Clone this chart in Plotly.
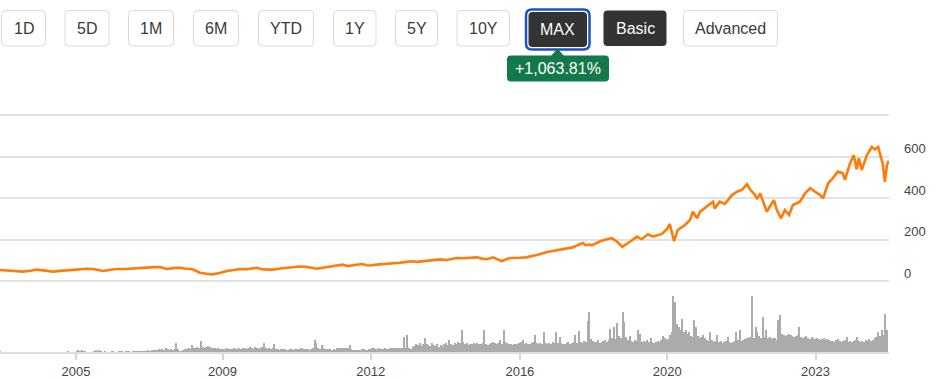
import plotly.graph_objects as go

W, H = 937, 379

# ---------------- data ----------------
price_years = [
    2004.17, 2004.35, 2004.55, 2004.72, 2004.90, 2005.05, 2005.25, 2005.44, 2005.60, 2005.77,
    2005.95, 2006.08, 2006.25, 2006.39, 2006.50, 2006.63, 2006.80, 2006.96, 2007.15, 2007.34,
    2007.50, 2007.67, 2007.85, 2007.98, 2008.14, 2008.30, 2008.45, 2008.60, 2008.74, 2008.85,
    2008.93, 2009.10, 2009.24, 2009.40, 2009.57, 2009.75, 2009.88, 2010.05, 2010.19, 2010.30,
    2010.42, 2010.53, 2010.67, 2010.85, 2011.00, 2011.15, 2011.30, 2011.45, 2011.60, 2011.72,
    2011.85, 2012.02, 2012.20, 2012.33, 2012.45, 2012.60, 2012.79, 2012.90, 2012.98, 2013.20,
    2013.38, 2013.55, 2013.69, 2013.85, 2014.00, 2014.10, 2014.33, 2014.50, 2014.65, 2014.81,
    2014.95, 2015.05, 2015.20, 2015.35, 2015.53, 2015.65, 2015.77, 2015.91, 2016.05, 2016.12,
    2016.31, 2016.45, 2016.55, 2016.70, 2016.86, 2017.00, 2017.20, 2017.35, 2017.50, 2017.65,
    2017.81, 2017.95, 2018.05, 2018.12, 2018.20, 2018.26, 2018.45, 2018.60, 2018.74, 2018.85,
    2018.99, 2019.17, 2019.34, 2019.45, 2019.60, 2019.72, 2019.93, 2020.05, 2020.12, 2020.22,
    2020.31, 2020.48, 2020.60, 2020.67, 2020.77, 2020.84, 2021.00, 2021.15, 2021.19, 2021.31,
    2021.43, 2021.60, 2021.72, 2021.84, 2021.96, 2022.03, 2022.15, 2022.20, 2022.27, 2022.34,
    2022.43, 2022.50, 2022.60, 2022.67, 2022.77, 2022.86, 2022.96, 2023.05, 2023.22, 2023.34,
    2023.46, 2023.58, 2023.70, 2023.77, 2023.89, 2024.00, 2024.12, 2024.24, 2024.29, 2024.41,
    2024.50, 2024.57, 2024.62, 2024.69, 2024.81, 2024.93, 2025.00, 2025.08, 2025.15, 2025.19,
    2025.24, 2025.29, 2025.33,
]
price_values = [
    53, 51, 47, 45, 49, 55, 50, 45, 49, 51,
    55, 58, 59, 58, 52, 48, 54, 58, 58, 61,
    63, 64, 67, 67, 58, 62, 64, 59, 58, 48,
    40, 35, 32, 39, 48, 53, 58, 57, 61, 64,
    56, 56, 55, 60, 64, 67, 70, 69, 62, 59,
    64, 69, 76, 79, 72, 78, 82, 76, 75, 80,
    82, 86, 88, 92, 95, 92, 98, 101, 104, 101,
    106, 111, 110, 112, 114, 108, 105, 114, 100, 96,
    111, 110, 112, 114, 120, 128, 140, 145, 149, 155,
    162, 175, 183, 172, 176, 172, 190, 200, 206, 192,
    165, 189, 214, 201, 225, 214, 227, 249, 275, 192,
    246, 270, 294, 334, 302, 334, 358, 382, 350, 382,
    371, 414, 430, 440, 467, 442, 414, 395, 423, 382,
    334, 358, 390, 342, 302, 342, 318, 366, 382, 423,
    447, 430, 414, 398, 471, 495, 527, 519, 487, 566,
    606, 538, 591, 535, 606, 646, 634, 646, 598, 566,
    478, 559, 580,
]

# volume, two readings per month starting March 2004 (relative units)
volume_start = 2004 + 2 / 12
volume_values = (
    [1, 0, 0, 0, 0, 0, 0, 0, 0, 0, 0, 0, 0, 0, 0, 0, 0, 0, 0, 0]                                   # 2004
    + [0, 0, 0, 0, 0, 0, 0, 0, 0, 0, 0, 0, 0, 0, 0, 0, 0, 0, 0, 1, 0, 0, 0, 0]                     # 2005
    + [1, 2, 1, 2, 1, 1, 0, 0, 0, 0, 1, 2, 1, 2, 1, 0, 1, 0, 0, 0, 1, 1, 0, 0]                     # 2006
    + [1, 1, 1, 0, 1, 1, 1, 0, 1, 1, 1, 1, 1, 1, 1, 1, 1, 2, 1, 2, 2, 2, 2, 3]                     # 2007
    + [2, 3, 2, 4, 3, 2, 3, 2, 3, 9, 3, 1, 1, 2, 3, 3, 4, 3, 7, 4, 4, 5, 4, 11]                    # 2008
    + [5, 4, 5, 6, 5, 4, 4, 4, 3, 4, 3, 3, 3, 3, 4, 3, 3, 3, 4, 3, 3, 4, 3, 4]                     # 2009
    + [4, 3, 4, 5, 4, 3, 5, 4, 3, 4, 5, 9, 4, 3, 4, 3, 4, 8, 3, 3, 2, 3, 3, 3]                     # 2010
    + [2, 2, 3, 3, 2, 3, 3, 3, 4, 4, 3, 3, 3, 2, 3, 4, 12, 9, 4, 3, 7, 4, 3, 3]                    # 2011
    + [3, 3, 2, 3, 2, 4, 4, 4, 4, 4, 4, 4, 7, 3, 2, 2, 2, 2, 2, 3, 3, 2, 2, 3]                     # 2012
    + [3, 4, 4, 3, 3, 4, 3, 3, 4, 3, 3, 4, 4, 4, 4, 4, 4, 4, 4, 15, 4, 17, 4, 3]                   # 2013
    + [5, 6, 8, 7, 9, 6, 8, 14, 8, 7, 6, 9, 7, 6, 8, 5, 7, 6, 8, 9, 7, 12, 8, 7]                   # 2014
    + [9, 8, 10, 9, 22, 10, 8, 9, 7, 8, 8, 9, 8, 9, 8, 8, 9, 22, 8, 7, 8, 9, 10, 9]                # 2015
    + [8, 9, 12, 8, 22, 10, 9, 8, 8, 7, 8, 8, 8, 9, 10, 12, 8, 9, 8, 8, 9, 10, 17, 9]              # 2016
    + [8, 9, 8, 20, 9, 8, 9, 8, 10, 9, 20, 9, 15, 9, 8, 8, 9, 10, 8, 9, 10, 17, 9, 21]             # 2017
    + [10, 9, 11, 10, 31, 40, 13, 11, 10, 10, 12, 9, 10, 11, 12, 10, 12, 23, 14, 25, 13, 29, 16, 14]  # 2018
    + [40, 30, 15, 12, 16, 11, 10, 12, 11, 22, 18, 10, 11, 10, 12, 10, 14, 10, 9, 10, 11, 10, 12, 16]  # 2019
    + [14, 12, 13, 17, 20, 56, 50, 28, 25, 22, 33, 20, 22, 18, 20, 16, 15, 32, 25, 16, 14, 15, 17, 14]  # 2020
    + [12, 11, 20, 12, 10, 11, 17, 10, 11, 9, 10, 11, 15, 10, 9, 10, 11, 20, 12, 22, 11, 12, 13, 14]  # 2021
    + [14, 15, 56, 14, 25, 20, 16, 14, 35, 15, 22, 14, 15, 13, 14, 14, 12, 32, 37, 18, 17, 16, 17, 18]  # 2022
    + [17, 16, 15, 16, 17, 25, 15, 14, 15, 16, 14, 13, 15, 14, 13, 14, 13, 12, 13, 14, 12, 13, 12, 11]  # 2023
    + [11, 10, 12, 13, 11, 10, 11, 12, 15, 10, 11, 10, 11, 12, 15, 11, 10, 11, 10, 12, 11, 13, 11, 12]  # 2024
    + [14, 15, 20, 16, 22, 17, 38, 22]                                                             # 2025
)
volume_years = [volume_start + i / 24 for i in range(len(volume_values))]

tick_years = [2005.98, 2009.47, 2013.00, 2016.55, 2020.06, 2023.59]
tick_labels = ["2005", "2009", "2012", "2016", "2020", "2023"]

price_ticks = [0, 200, 400, 600, 800]
price_tick_labels = ["0", "200", "400", "600", ""]

range_buttons = ["1D", "5D", "1M", "6M", "YTD", "1Y", "5Y", "10Y", "MAX", "Basic", "Advanced"]
change_label = "+1,063.81%"

# ---------------- styling helpers (pixel -> paper) ----------------
FONT = "Liberation Sans, Arial, Helvetica, sans-serif"
PX_PER_UNIT = 0.2075   # price axis scale (pixels per price unit)
PAD = 6                # extra price units kept beyond 0 and 800 so edge gridlines are drawn


def X(v):
    return v / W


def Y(v):
    return 1 - v / H


def rrect(x0, y0, x1, y1, r):
    return (f"M {X(x0 + r)},{Y(y0)} L {X(x1 - r)},{Y(y0)} Q {X(x1)},{Y(y0)} {X(x1)},{Y(y0 + r)} "
            f"L {X(x1)},{Y(y1 - r)} Q {X(x1)},{Y(y1)} {X(x1 - r)},{Y(y1)} "
            f"L {X(x0 + r)},{Y(y1)} Q {X(x0)},{Y(y1)} {X(x0)},{Y(y1 - r)} "
            f"L {X(x0)},{Y(y0 + r)} Q {X(x0)},{Y(y0)} {X(x0 + r)},{Y(y0)} Z")


button_boxes = [
    (1.5, 45.5), (65, 109), (128.5, 173.5), (193.5, 238.5), (258.5, 313.5), (333.5, 376),
    (395.5, 437.5), (457, 509.5), (528.5, 587), (603.5, 666.5), (683.5, 777.5),
]
dark_buttons = {"MAX", "Basic"}

shapes = []
annotations = []
for label, (bx0, bx1) in zip(range_buttons, button_boxes):
    if label == "MAX":
        shapes.append(dict(type="path", xref="paper", yref="paper", layer="above",
                           path=rrect(526, 9.5, 589.5, 49.5, 6),
                           line=dict(color="#1a53c4", width=2.5), fillcolor="rgba(0,0,0,0)"))
        shapes.append(dict(type="path", xref="paper", yref="paper", layer="above",
                           path=rrect(bx0, 12, bx1, 47, 4),
                           line=dict(width=0), fillcolor="#333333"))
        cy = 29.5
    elif label in dark_buttons:
        shapes.append(dict(type="path", xref="paper", yref="paper", layer="above",
                           path=rrect(bx0, 10.5, bx1, 46, 4),
                           line=dict(width=0), fillcolor="#333333"))
        cy = 28.5
    else:
        shapes.append(dict(type="path", xref="paper", yref="paper", layer="above",
                           path=rrect(bx0, 10.5, bx1, 46, 4),
                           line=dict(color="#dadada", width=1), fillcolor="white"))
        cy = 28.5
    annotations.append(dict(
        x=X((bx0 + bx1) / 2), y=Y(cy), xref="paper", yref="paper", text=label,
        showarrow=False, xanchor="center", yanchor="middle",
        font=dict(family=FONT, size=16, color="white" if label in dark_buttons else "#3a3a3a"),
    ))

# change badge
badge_green = "#13794a"
shapes.append(dict(type="path", xref="paper", yref="paper", layer="above",
                   path=rrect(507, 55.5, 609, 81.5, 4), line=dict(width=0), fillcolor=badge_green))
shapes.append(dict(type="path", xref="paper", yref="paper", layer="above",
                   path=f"M {X(551)},{Y(56)} L {X(557.5)},{Y(48.5)} L {X(564)},{Y(56)} Z",
                   line=dict(width=0), fillcolor=badge_green))
annotations.append(dict(
    x=X(558), y=Y(68.5), xref="paper", yref="paper", text=change_label, showarrow=False,
    xanchor="center", yanchor="middle", font=dict(family=FONT, size=16, color="white"),
))

# ---------------- figure ----------------
fig = go.Figure()
fig.add_trace(go.Bar(
    x=volume_years, y=volume_values, yaxis="y2", xaxis="x",
    marker=dict(color="#ababab", line=dict(width=0)), width=0.036,
    hoverinfo="skip", showlegend=False,
))
fig.add_trace(go.Scatter(
    x=price_years, y=price_values, mode="lines", yaxis="y", xaxis="x",
    line=dict(color="#ff7b0a", width=2.6), showlegend=False,
))

fig.update_layout(
    template="none",
    width=W, height=H,
    margin=dict(l=0, r=0, t=0, b=0, pad=0, autoexpand=False),
    paper_bgcolor="white", plot_bgcolor="rgba(0,0,0,0)",
    font=dict(family=FONT, size=13, color="#444"),
    showlegend=False,
    xaxis=dict(
        domain=[0, 889 / W], range=[2004.172, 2025.339], anchor="y2",
        showgrid=False, zeroline=False, showline=True, linecolor="#dcdcdc", linewidth=2,
        ticks="outside", ticklen=6, tickwidth=2, tickcolor="#d4d4d4",
        tickvals=tick_years, ticktext=tick_labels,
        tickfont=dict(family=FONT, size=13, color="#444"), automargin=False, fixedrange=True,
    ),
    yaxis=dict(
        domain=[Y(281 + PAD * PX_PER_UNIT), Y(115 - PAD * PX_PER_UNIT)],
        range=[-PAD, 800 + PAD], anchor="x", side="right",
        showgrid=True, gridcolor="#e2e2e2", gridwidth=2, zeroline=False, showline=False,
        tickvals=price_ticks, ticktext=price_tick_labels, ticks="",
        tickfont=dict(family=FONT, size=13, color="#444"),
        ticklabelshift=-8, ticklabelstandoff=14, automargin=False, fixedrange=True,
    ),
    yaxis2=dict(
        domain=[Y(352), Y(281)], range=[0, 71], anchor="x", visible=False,
        showgrid=False, zeroline=False, fixedrange=True,
    ),
    bargap=0,
    shapes=shapes,
    annotations=annotations,
)

fig.write_html(
    "out.html",
    config={"displayModeBar": False},
    post_script="document.body.style.margin='0px';document.body.style.overflow='hidden';",
)
